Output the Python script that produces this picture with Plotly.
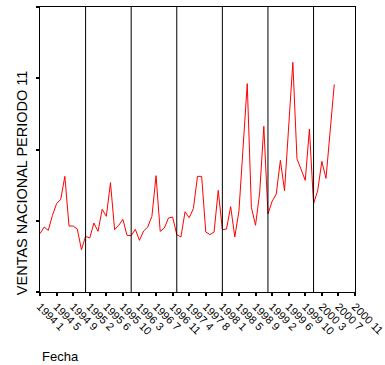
import plotly.graph_objects as go

years = [1994, 1995, 1996, 1997, 1998, 1999, 2000]
periods_per_year = 11
categories = [f"{y} {p}" for y in years for p in range(1, periods_per_year + 1)]

ventas = [
    81.9, 91.2, 86.5, 107.6, 124.0, 130.1, 162.3, 92.6, 92.6, 88.4, 59.4,
    78.1, 75.8, 96.8, 85.1, 116.0, 106.2, 153.4, 87.5, 93.6, 102.0, 79.5,
    79.1, 87.9, 72.5, 85.6, 91.2, 106.2, 163.3, 85.1, 89.8, 103.9, 105.3,
    80.5, 77.2, 112.7, 104.3, 117.0, 162.3, 162.3, 84.2, 80.5, 84.2, 142.7,
    87.5, 88.4, 119.8, 77.2, 113.7, 196.5, 292.4, 118.8, 93.6, 138.9, 232.5,
    109.5, 127.2, 137.5, 184.8, 142.2, 232.5, 322.3, 187.1, 172.2, 156.7, 228.7,
    124.0, 142.2, 183.4, 159.5, 223.1, 291.4,
]
data_categories = categories[:len(ventas)]
tick_labels = categories[::4]
y_ticks = [0, 100, 200, 300, 400]

fig = go.Figure()
fig.add_trace(go.Scatter(
    x=data_categories, y=ventas, mode="lines",
    line=dict(color="#ff0000", width=1), showlegend=False,
))

for y in years[1:]:
    fig.add_shape(type="line", xref="x", yref="paper",
                  x0=f"{y} 1", x1=f"{y} 1", y0=0, y1=1,
                  line=dict(color="#000000", width=1))

font = "Liberation Sans, Arial, sans-serif"
fig.update_layout(
    width=385, height=365,
    margin=dict(l=40, r=30, t=7, b=73),
    paper_bgcolor="white", plot_bgcolor="white",
    font=dict(family=font, color="#000000", size=11),
    xaxis=dict(
        type="category", categoryorder="array", categoryarray=categories,
        range=[0, len(categories) - 1], automargin=False,
        tickmode="array", tickvals=tick_labels, ticktext=tick_labels,
        tickangle=45, ticks="outside", ticklen=3, tickwidth=2, tickcolor="#000",
        showline=True, linecolor="#000", linewidth=1, mirror=True,
        showgrid=False, zeroline=False, tickfont=dict(size=11),
    ),
    yaxis=dict(
        range=[0, 400], tickvals=y_ticks, showticklabels=False, automargin=False,
        ticks="outside", ticklen=3, tickwidth=2, tickcolor="#000",
        showline=True, linecolor="#000", linewidth=1, mirror=True,
        showgrid=False, zeroline=False,
    ),
    annotations=[
        dict(text="VENTAS NACIONAL PERIODO 11", xref="paper", yref="paper",
             x=-0.057, y=0.382, xanchor="center", yanchor="middle",
             textangle=-90, showarrow=False, font=dict(size=14.5)),
        dict(text="Fecha", xref="paper", yref="paper", x=0, y=-0.228,
             xanchor="left", yanchor="middle", showarrow=False,
             font=dict(size=13)),
    ],
)

fig.write_html("out.html", config={"displayModeBar": False},
               post_script="document.body.style.margin='0';")
